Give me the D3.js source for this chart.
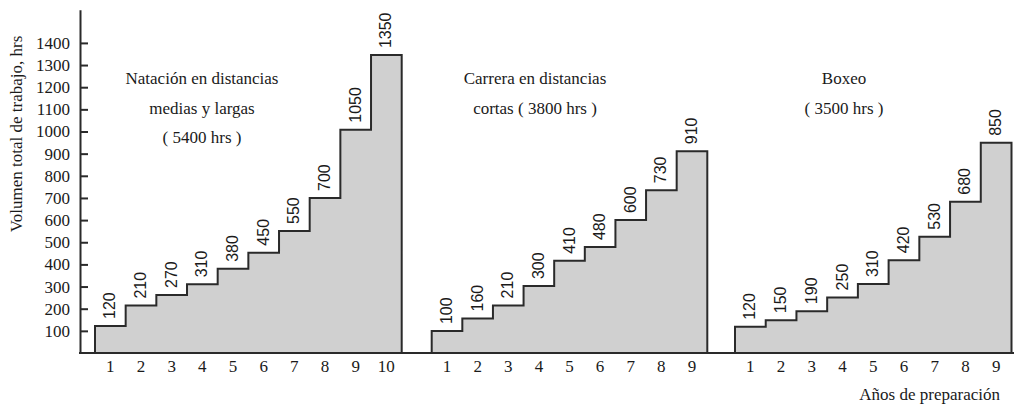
<!DOCTYPE html>
<html>
<head>
<meta charset="utf-8">
<script src="https://cdn.jsdelivr.net/npm/d3@7"></script>
<style>
  body { margin: 0; background: #fff; }
  svg { display: block; }
  text { font-family: "Liberation Serif", "DejaVu Serif", serif; fill: #1a1a1a; }
  .val { font-family: "Liberation Sans Narrow", "Liberation Sans", Arial, sans-serif; }
</style>
</head>
<body>
<svg id="chart" width="1014" height="405"></svg>
<script>
// printed labels
var natacion = [120, 210, 270, 310, 380, 450, 550, 700, 1050, 1350]
var carrera = [100, 160, 210, 300, 410, 480, 600, 730, 910]
var boxeo = [120, 150, 190, 250, 310, 420, 530, 680, 850]
// step heights as drawn (they do not always match the labels)
var natacionBarras = [122, 214, 262, 310, 380, 453, 551, 700, 1008, 1345]
var carreraBarras = [99, 156, 215, 302, 416, 478, 600, 735, 911]
var boxeoBarras = [118, 148, 189, 251, 311, 419, 525, 683, 949]
var yTicks = [100, 200, 300, 400, 500, 600, 700, 800, 900, 1000, 1100, 1200, 1300, 1400]
var titleNatacion = ["Natación en distancias", "medias y largas", "( 5400 hrs )"]
var titleCarrera = ["Carrera en distancias", "cortas ( 3800 hrs )"]
var titleBoxeo = ["Boxeo", "( 3500 hrs )"]

var width = 1014,
    height = 405;
var base = 353;
var svg = d3.select("#chart");

var y = d3.scaleLinear()
    .domain([0, 1550])
    .range([base, base - 1550 * 0.2215]);

var panels = [
    {labels: natacion, values: natacionBarras, range: [95, 401.7], title: titleNatacion, cx: 202},
    {labels: carrera, values: carreraBarras, range: [431.7, 707.3], title: titleCarrera, cx: 535},
    {labels: boxeo, values: boxeoBarras, range: [735, 1011.5], title: titleBoxeo, cx: 844}
];

panels.forEach(function(p){
    var years = p.values.map(function(d, i){ return i + 1 });
    var x = d3.scaleBand().domain(years).range(p.range).padding(0);

    // step outline: one point per year at its left edge, plus the right edge
    var pts = years.map(function(yr, i){ return [x(yr), p.values[i]] });
    pts.push([p.range[1], p.values[p.values.length - 1]]);

    var area = d3.area()
        .curve(d3.curveStepAfter)
        .x(function(d){ return d[0] })
        .y0(base)
        .y1(function(d){ return y(d[1]) });

    svg.append("path")
        .datum(pts)
        .attr("d", area)
        .attr("fill", "#d0d0d0")
        .attr("stroke", "#2a2a2a")
        .attr("stroke-width", 2)
        .attr("stroke-linejoin", "miter");

    // value labels, rotated, sitting on top of each step
    svg.append("g").selectAll("text")
        .data(p.labels)
        .join("text")
        .attr("class", "val")
        .attr("transform", function(d, i){
            return "translate(" + (x(years[i]) + x.bandwidth() / 2 + 5) + "," + (y(p.values[i]) - 7) + ") rotate(-90)";
        })
        .attr("font-size", "16px")
        .text(function(d){ return d });

    // year labels under the axis
    svg.append("g").selectAll("text")
        .data(years)
        .join("text")
        .attr("x", function(d){ return x(d) + x.bandwidth() / 2 })
        .attr("y", 372)
        .attr("text-anchor", "middle")
        .attr("font-size", "17px")
        .text(function(d){ return d });

    // panel title
    svg.append("g").selectAll("text")
        .data(p.title)
        .join("text")
        .attr("x", p.cx)
        .attr("y", function(d, i){ return 84 + i * 29.5 })
        .attr("text-anchor", "middle")
        .attr("font-size", "17px")
        .text(function(d){ return d });
});

// y axis, ticks pointing inward
var y_axis = d3.axisLeft(y)
    .tickValues(yTicks)
    .tickFormat(d3.format("d"))
    .tickSizeInner(-8)
    .tickSizeOuter(0)
    .tickPadding(10);

var gy = svg.append("g")
    .attr("transform", "translate(80,0)")
    .call(y_axis);
gy.select(".domain").attr("stroke", "#2a2a2a").attr("stroke-width", 2);
gy.selectAll(".tick line").attr("stroke", "#2a2a2a").attr("stroke-width", 2);
gy.selectAll(".tick text")
    .attr("font-family", "Liberation Serif, DejaVu Serif, serif")
    .attr("font-size", "17px")
    .attr("fill", "#1a1a1a");

// baseline
svg.append("line")
    .attr("x1", 79).attr("x2", width)
    .attr("y1", base).attr("y2", base)
    .attr("stroke", "#2a2a2a")
    .attr("stroke-width", 2);

// axis titles
svg.append("text")
    .attr("transform", "translate(22,134) rotate(-90)")
    .attr("text-anchor", "middle")
    .attr("font-size", "17px")
    .text("Volumen total de trabajo,  hrs");

svg.append("text")
    .attr("x", 1000)
    .attr("y", 400)
    .attr("text-anchor", "end")
    .attr("font-size", "17px")
    .text("Años de preparación");
</script>
</body>
</html>
